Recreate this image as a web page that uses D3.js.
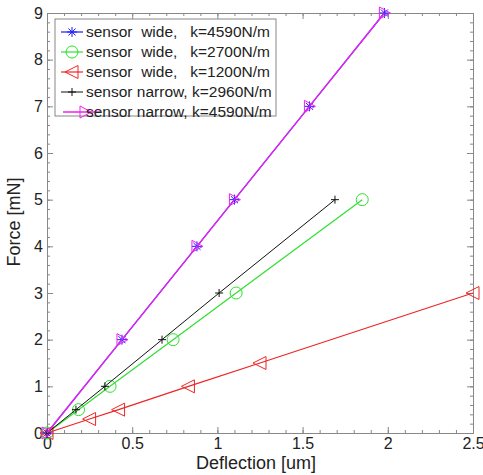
<!DOCTYPE html>
<html>
<head>
<meta charset="utf-8">
<script src="https://cdn.jsdelivr.net/npm/d3@7"></script>
<style>
  body { margin: 0; background: #fff; }
  svg { font-family: "Liberation Sans", Arial, sans-serif; }
</style>
</head>
<body>
<svg id="chart" width="483" height="475"></svg>
<script>
// data
var seriesNames = ["sensor  wide,   k=4590N/m", "sensor  wide,   k=2700N/m", "sensor  wide,   k=1200N/m",
                   "sensor narrow, k=2960N/m", "sensor narrow, k=4590N/m"];
var wide4590X = [0, 0.44, 0.88, 1.1, 1.54, 1.98];
var wide4590Y = [0, 2, 4, 5, 7, 9];
var wide2700X = [0, 0.185, 0.37, 0.74, 1.11, 1.85];
var wide2700Y = [0, 0.5, 1, 2, 3, 5];
var wide1200X = [0, 0.25, 0.42, 0.83, 1.25, 2.5];
var wide1200Y = [0, 0.3, 0.5, 1, 1.5, 3];
var narrow2960X = [0, 0.17, 0.34, 0.675, 1.01, 1.69];
var narrow2960Y = [0, 0.5, 1, 2, 3, 5];
var narrow4590X = [0, 0.44, 0.88, 1.1, 1.54, 1.98];
var narrow4590Y = [0, 2, 4, 5, 7, 9];
var xTicks = [0, 0.5, 1, 1.5, 2, 2.5];
var yTicks = [0, 1, 2, 3, 4, 5, 6, 7, 8, 9];

var series = [
  {name: seriesNames[0], xs: wide4590X, ys: wide4590Y, color: "#1a1aff", marker: "star", lw: 1.2},
  {name: seriesNames[1], xs: wide2700X, ys: wide2700Y, color: "#2fe02f", marker: "circle", lw: 1.2},
  {name: seriesNames[2], xs: wide1200X, ys: wide1200Y, color: "#ee2424", marker: "triLeft", lw: 1.2},
  {name: seriesNames[3], xs: narrow2960X, ys: narrow2960Y, color: "#111", marker: "plus", lw: 1},
  {name: seriesNames[4], xs: narrow4590X, ys: narrow4590Y, color: "#ee22ee", marker: "triRight", lw: 1.3}
];

function markerPath(type) {
  if (type == "star") {
    var r = 5, a = r * 0.707;
    return "M" + (-r) + ",0L" + r + ",0M0," + (-r) + "L0," + r +
      "M" + (-a) + "," + (-a) + "L" + a + "," + a + "M" + (-a) + "," + a + "L" + a + "," + (-a);
  }
  if (type == "plus") return "M-4,0L4,0M0,-4L0,4";
  if (type == "circle") return "M6,0A6,6 0 1,1 -6,0A6,6 0 1,1 6,0Z";
  if (type == "triLeft") return "M-7,0L6,-6.5L6,6.5Z";
  if (type == "triRight") return "M6,0L-5,-6L-5,6Z";
}

var svg = d3.select("#chart");
var margin = {top: 13, right: 10, bottom: 42, left: 47},
    width = +svg.attr("width") - margin.left - margin.right,
    height = +svg.attr("height") - margin.top - margin.bottom;

var x = d3.scaleLinear().domain([0, 2.5]).range([0, width]);
var y = d3.scaleLinear().domain([0, 9]).range([height, 0]);

var g = svg.append("g")
    .attr("transform", "translate(" + margin.left + "," + margin.top + ")");

var fmt = d3.format("~g");
var tickColor = "#888";

// minor ticks
var xMinor = d3.range(0, 25.01, 1).map(function (d) { return d / 10; });
var yMinor = d3.range(0, 45.01, 1).map(function (d) { return d / 5; });

function drawAxis(axis, transform, labels) {
  var a = g.append("g")
    .attr("transform", transform)
    .call(axis);
  a.select(".domain").attr("stroke", tickColor);
  a.selectAll(".tick line").attr("stroke", tickColor);
  a.selectAll("text").attr("fill", "#222").style("font-size", "16px");
  if (!labels) a.selectAll("text").remove();
  return a;
}

drawAxis(d3.axisBottom(x).tickValues(xMinor).tickSize(-3).tickFormat(""), "translate(0," + height + ")", false);
drawAxis(d3.axisTop(x).tickValues(xMinor).tickSize(-3).tickFormat(""), "translate(0,0)", false);
drawAxis(d3.axisLeft(y).tickValues(yMinor).tickSize(-3).tickFormat(""), "translate(0,0)", false);
drawAxis(d3.axisRight(y).tickValues(yMinor).tickSize(-3).tickFormat(""), "translate(" + width + ",0)", false);

drawAxis(d3.axisBottom(x).tickValues(xTicks).tickSize(-6).tickPadding(5).tickFormat(fmt), "translate(0," + height + ")", true);
drawAxis(d3.axisTop(x).tickValues(xTicks).tickSize(-6).tickFormat(""), "translate(0,0)", false);
drawAxis(d3.axisLeft(y).tickValues(yTicks).tickSize(-6).tickPadding(4).tickFormat(fmt), "translate(0,0)", true);
drawAxis(d3.axisRight(y).tickValues(yTicks).tickSize(-6).tickFormat(""), "translate(" + width + ",0)", false);

// axis titles
g.append("text")
  .attr("x", width / 2 - 4)
  .attr("y", height + 36)
  .attr("text-anchor", "middle")
  .attr("fill", "#222")
  .style("font-size", "18px")
  .text("Deflection [um]");

g.append("text")
  .attr("transform", "translate(" + (-27) + "," + (222 - margin.top) + ") rotate(-90)")
  .attr("text-anchor", "middle")
  .attr("fill", "#222")
  .style("font-size", "18px")
  .text("Force [mN]");

// lines and markers
var line = d3.line()
  .x(function (d) { return x(d[0]); })
  .y(function (d) { return y(d[1]); });

series.forEach(function (s) {
  var pts = s.xs.map(function (v, i) { return [v, s.ys[i]]; });
  g.append("path")
    .datum(pts)
    .attr("fill", "none")
    .attr("stroke", s.color)
    .attr("stroke-width", s.lw)
    .attr("d", line);
  g.selectAll(null)
    .data(pts)
    .enter()
    .append("path")
    .attr("transform", function (d) { return "translate(" + x(d[0]) + "," + y(d[1]) + ")"; })
    .attr("d", markerPath(s.marker))
    .attr("fill", "none")
    .attr("stroke", s.color)
    .attr("stroke-width", 1);
});

// legend
var legend = svg.append("g").attr("transform", "translate(55,19)");
legend.append("rect")
  .attr("width", 221)
  .attr("height", 97)
  .attr("fill", "#fff")
  .attr("stroke", "#888");

var rows = legend.selectAll(".legend")
  .data(series)
  .enter().append("g")
  .attr("class", "legend")
  .attr("transform", function (d, i) { return "translate(0," + (13 + i * 20) + ")"; });

rows.append("line")
  .attr("x1", function (d, i) { return i == 4 ? 8 : 6; })
  .attr("x2", function (d, i) { return i == 4 ? 45 : 28; })
  .attr("stroke", function (d) { return d.color; })
  .attr("stroke-width", function (d) { return d.lw; });

rows.append("path")
  .attr("transform", function (d, i) { return "translate(" + (i == 4 ? 30 : 17) + ",0)"; })
  .attr("d", function (d) { return markerPath(d.marker); })
  .attr("fill", "none")
  .attr("stroke", function (d) { return d.color; });

rows.append("text")
  .attr("x", 31)
  .attr("dy", "0.35em")
  .attr("fill", "#222")
  .style("font-size", "15.5px")
  .style("white-space", "pre")
  .text(function (d) { return d.name; });
</script>
</body>
</html>
